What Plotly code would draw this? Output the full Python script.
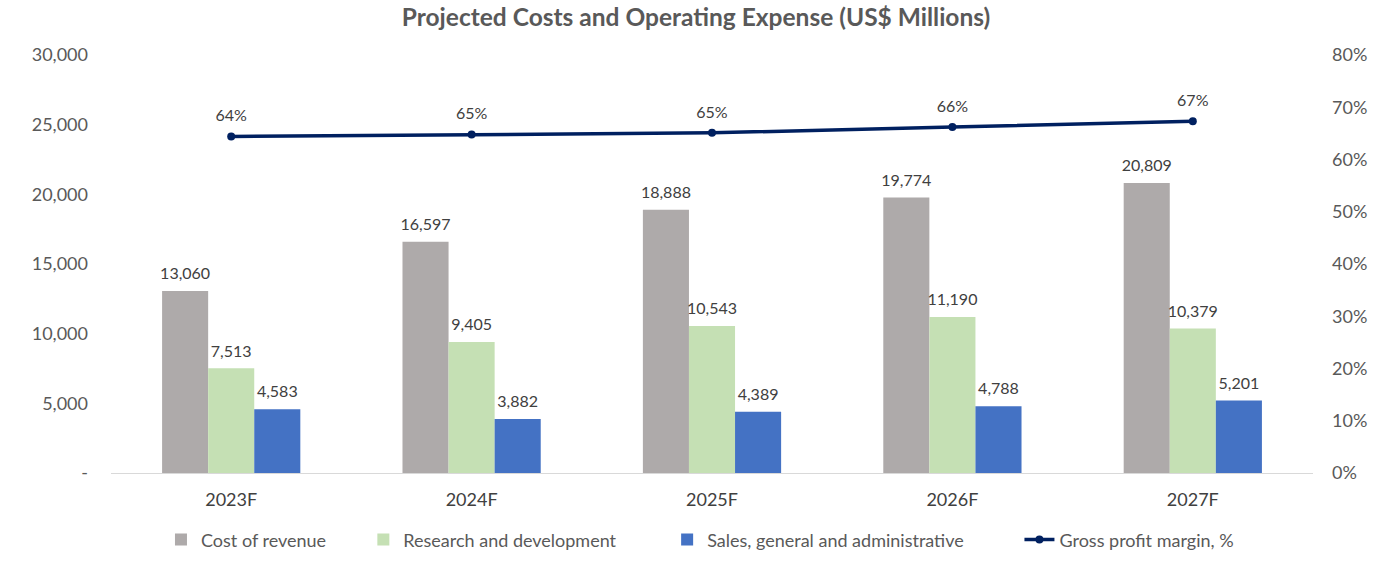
import plotly.graph_objects as go

years = ["2023F", "2024F", "2025F", "2026F", "2027F"]
cost_of_revenue = [13060, 16597, 18888, 19774, 20809]
research_dev = [7513, 9405, 10543, 11190, 10379]
sga = [4583, 3882, 4389, 4788, 5201]
gross_margin = [0.644, 0.648, 0.651, 0.662, 0.673]

left_ticks = [0, 5000, 10000, 15000, 20000, 25000, 30000]
left_tick_text = ["-", "5,000", "10,000", "15,000", "20,000", "25,000", "30,000"]
right_ticks = [0, 0.1, 0.2, 0.3, 0.4, 0.5, 0.6, 0.7, 0.8]

FONT = "Lato, Open Sans, sans-serif"
NB = "\u00a0"


def lbl(s):
    # label text at 16px with a small spacer line below it
    return f"<span style='font-size:16px'>{s}</span><br> "


small_font = dict(family=FONT, size=6, color="#404040")

fig = go.Figure()
for name, vals, color, pad in [
    ("Cost of revenue", cost_of_revenue, "#aeaaaa", 7),
    ("Research and development", research_dev, "#c5e0b4", 10),
    ("Sales, general and administrative", sga, "#4472c4", 11),
]:
    fig.add_trace(go.Bar(
        x=years, y=vals, name=name + NB * pad,
        marker=dict(color=color, line=dict(width=0)),
        text=[lbl(f"{v:,}") for v in vals], textposition="outside",
        textfont=small_font, cliponaxis=False, constraintext="none",
    ))

fig.add_trace(go.Scatter(
    x=years, y=gross_margin, name="Gross profit margin, %", yaxis="y2",
    mode="lines+markers+text",
    line=dict(color="#002060", width=3.5),
    marker=dict(color="#002060", size=8),
    text=[lbl(f"{round(v*100)}%") for v in gross_margin],
    textposition="top center", textfont=small_font, cliponaxis=False,
))

fig.update_layout(
    width=1392, height=580,
    margin=dict(l=111, r=79, t=55, b=107),
    paper_bgcolor="white", plot_bgcolor="white",
    barmode="group", bargap=0.425, bargroupgap=0,
    title=dict(text="<b>Projected Costs and Operating Expense (US$ Millions)</b>",
               x=0.5, xanchor="center", y=1 - 17 / 580, yanchor="middle",
               font=dict(family=FONT, size=24.5, color="#595959")),
    font=dict(family=FONT, color="#595959"),
    xaxis=dict(showgrid=False, showline=True, linecolor="#d9d9d9", linewidth=1,
               ticks="", tickfont=dict(family=FONT, size=18, color="#404040"),
               ticklabelstandoff=10),
    yaxis=dict(range=[0, 30000], tickvals=left_ticks, ticktext=left_tick_text,
               showgrid=False, zeroline=False, showline=False, ticks="",
               tickfont=dict(family=FONT, size=18, color="#595959"), ticklabelstandoff=22),
    yaxis2=dict(range=[0, 0.8], tickvals=right_ticks, tickformat=".0%",
                overlaying="y", side="right", showgrid=False, zeroline=False,
                showline=False, ticks="",
                tickfont=dict(family=FONT, size=18, color="#595959"), ticklabelstandoff=18),
    legend=dict(orientation="h", x=0.49, xanchor="center", y=-0.16, yanchor="middle",
                font=dict(family=FONT, size=18, color="#595959"),
                traceorder="normal", itemwidth=30),
)

fig.write_html("out.html", config={"displayModeBar": False},
               post_script="document.body.style.margin='0px';")
